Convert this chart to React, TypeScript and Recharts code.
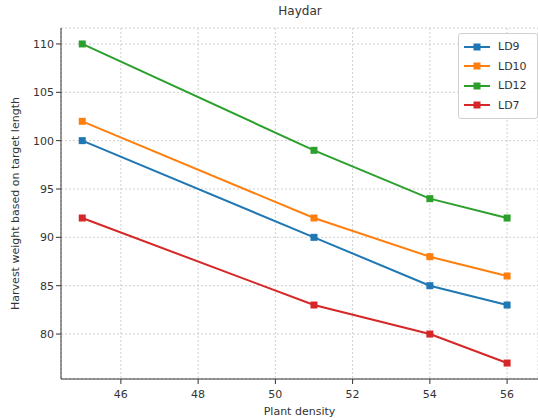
import { LineChart, Line, XAxis, YAxis, CartesianGrid, Label } from 'recharts'

const density = [45, 51, 54, 56]
const ld9 = [100, 90, 85, 83]
const ld10 = [102, 92, 88, 86]
const ld12 = [110, 99, 94, 92]
const ld7 = [92, 83, 80, 77]

const xTicks = [46, 48, 50, 52, 54, 56]
const yTicks = [80, 85, 90, 95, 100, 105, 110]

const series = [
  { key: 'LD9', values: ld9, color: '#1f77b4' },
  { key: 'LD10', values: ld10, color: '#ff7f0e' },
  { key: 'LD12', values: ld12, color: '#2ca02c' },
  { key: 'LD7', values: ld7, color: '#d62728' }
]

const data = density.map((d, i) => {
  const row: Record<string, number> = { density: d }
  series.forEach(s => {
    row[s.key] = s.values[i]
  })
  return row
})

const font = 'DejaVu Sans, sans-serif'

const SquareDot = (props: any) => {
  const { cx, cy, stroke } = props
  if (cx == null || cy == null) return null
  return <rect x={cx - 3.5} y={cy - 3.5} width={7} height={7} fill={stroke} />
}

// legend drawn outside the chart so it takes no room from the plot
const LegendBox = () => (
  <div
    style={{
      position: 'absolute',
      top: 33,
      left: 458,
      width: 68,
      border: '1px solid #d0d0d0',
      borderRadius: 3,
      background: 'rgba(255,255,255,0.85)',
      padding: '3px 5px 3px 5px',
      fontFamily: font,
      fontSize: 11,
      color: '#333'
    }}
  >
    {series.map(s => (
      <div key={s.key} style={{ display: 'flex', alignItems: 'center', height: 19.5 }}>
        <svg width={26} height={10} style={{ marginRight: 8 }}>
          <line x1={0} y1={5} x2={26} y2={5} stroke={s.color} strokeWidth={2} />
          <rect x={9.5} y={1.5} width={7} height={7} fill={s.color} />
        </svg>
        <span>{s.key}</span>
      </div>
    ))}
  </div>
)

export default function App() {
  return (
    <div style={{ position: 'absolute', left: 0, top: 0, width: 538, height: 420, background: '#fff' }}>
      <div
        style={{
          position: 'absolute',
          top: 4,
          left: 250,
          width: 100,
          textAlign: 'center',
          fontFamily: font,
          fontSize: 12,
          color: '#333'
        }}
      >
        Haydar
      </div>
      <LineChart
        width={538}
        height={420}
        data={data}
        margin={{ top: 28, right: 0, bottom: 0, left: 0 }}
      >
        <CartesianGrid stroke="#d0d0d0" strokeDasharray="2 2" />
        <XAxis
          xAxisId="top"
          orientation="top"
          dataKey="density"
          type="number"
          domain={[44.45, 56.8]}
          height={0}
          tick={false}
          tickLine={false}
          axisLine={{ stroke: '#333' }}
        />
        <XAxis
          dataKey="density"
          type="number"
          domain={[44.45, 56.8]}
          allowDataOverflow
          ticks={xTicks}
          height={41}
          tickSize={5}
          tickLine={{ stroke: '#333' }}
          axisLine={{ stroke: '#333' }}
          tick={{ fill: '#333', fontSize: 11, fontFamily: font, dy: 4 }}
        >
          <Label
            value="Plant density"
            position="insideBottom"
            offset={5}
            style={{ fill: '#333', fontSize: 11, fontFamily: font }}
          />
        </XAxis>
        <YAxis
          type="number"
          domain={[75.35, 111.65]}
          allowDataOverflow
          ticks={yTicks}
          width={61}
          tickSize={5}
          tickLine={{ stroke: '#333' }}
          axisLine={{ stroke: '#333' }}
          tick={{ fill: '#333', fontSize: 11, fontFamily: font }}
        >
          <Label
            content={(p: any) => {
              const vb = p.viewBox || { y: 28, height: 351 }
              const cy = vb.y + vb.height / 2
              return (
                <text
                  x={15}
                  y={cy}
                  transform={`rotate(-90 15 ${cy})`}
                  textAnchor="middle"
                  dominantBaseline="central"
                  fill="#333"
                  fontSize={11}
                  fontFamily={font}
                >
                  Harvest weight based on target length
                </text>
              )
            }}
          />
        </YAxis>
        {series.map(s => (
          <Line
            key={s.key}
            dataKey={s.key}
            stroke={s.color}
            strokeWidth={2}
            dot={<SquareDot />}
            activeDot={false}
            isAnimationActive={false}
          />
        ))}
      </LineChart>
      <LegendBox />
    </div>
  )
}
